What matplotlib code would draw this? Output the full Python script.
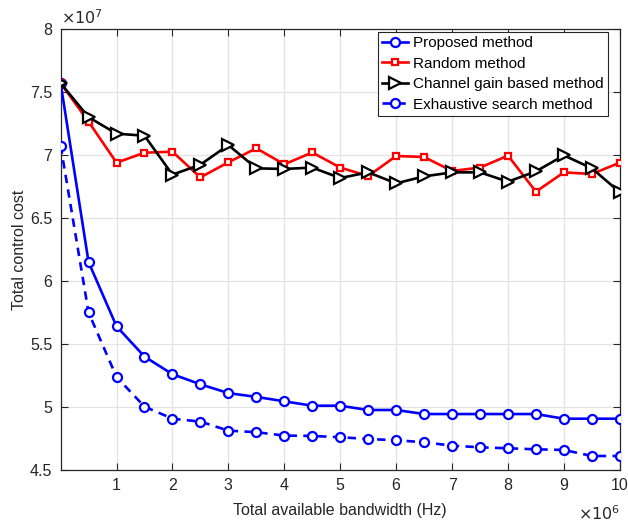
import numpy as np
import matplotlib
matplotlib.use("Agg")
import matplotlib.pyplot as plt
from matplotlib.ticker import FuncFormatter

plt.rcParams['font.family'] = ['Liberation Sans', 'DejaVu Sans']

# Total available bandwidth (Hz)
bandwidth = np.arange(0, 10.5, 0.5) * 1e6

# Total control cost for each allocation scheme (units of 1e7)
proposed = [7.57, 6.15, 5.64, 5.40, 5.26, 5.18, 5.11, 5.08, 5.045, 5.01, 5.01,
            4.976, 4.976, 4.944, 4.944, 4.944, 4.944, 4.944, 4.907, 4.907, 4.907]
random_m = [7.57, 7.264, 6.939, 7.018, 7.026, 6.822, 6.942, 7.053, 6.926, 7.02, 6.90,
            6.833, 6.992, 6.984, 6.873, 6.90, 6.995, 6.709, 6.862, 6.849, 6.939]
channel_gain = [7.57, 7.30, 7.169, 7.153, 6.844, 6.923, 7.079, 6.894, 6.889, 6.90, 6.817,
                6.862, 6.775, 6.83, 6.862, 6.862, 6.788, 6.87, 6.997, 6.894, 6.704]
exhaustive = [7.074, 5.75, 5.238, 5.003, 4.907, 4.884, 4.812, 4.80, 4.773, 4.77, 4.76,
              4.746, 4.736, 4.72, 4.693, 4.68, 4.672, 4.664, 4.659, 4.611, 4.611]

series_labels = ["Proposed method", "Random method",
                 "Channel gain based method", "Exhaustive search method"]

fig = plt.figure(figsize=(6.28, 5.25), dpi=100)
ax = fig.add_axes([0.0965, 0.1048, 0.8905, 0.84])

axc = '#262626'
lw = 1.9
ax.plot(bandwidth, np.array(proposed) * 1e7, color='#0000ff', lw=lw, marker='o',
        ms=6.5, mfc='white', mew=1.6, label=series_labels[0], zorder=3)
ax.plot(bandwidth, np.array(random_m) * 1e7, color='#ff0000', lw=lw, marker='s',
        ms=5, mfc='white', mew=1.6, label=series_labels[1], zorder=3)
ax.plot(bandwidth, np.array(channel_gain) * 1e7, color='black', lw=lw, marker='>',
        ms=8, mfc='white', mew=1.6, label=series_labels[2], zorder=3)
ax.plot(bandwidth, np.array(exhaustive) * 1e7, color='#0000ff', lw=lw, marker='o',
        ms=6.5, mfc='white', mew=1.6, dashes=(3.2, 2.4), label=series_labels[3], zorder=3)

ax.set_xlim(0, 10e6)
ax.set_ylim(4.5e7, 8e7)
ax.set_xticks(np.arange(1, 11) * 1e6)
ax.set_yticks(np.arange(4.5, 8.01, 0.5) * 1e7)
ax.xaxis.set_major_formatter(FuncFormatter(lambda v, p: '%g' % (v / 1e6)))
ax.yaxis.set_major_formatter(FuncFormatter(lambda v, p: '%g' % (v / 1e7)))

ax.grid(True, color='#e3e3e3', lw=0.9)
ax.set_axisbelow(True)
ax.tick_params(direction='in', top=True, right=True, labelsize=11.5,
               colors=axc, length=5, width=0.8, pad=6)
for s in ax.spines.values():
    s.set_color(axc)
    s.set_linewidth(0.9)

ax.set_xlabel('Total available bandwidth (Hz)', fontsize=11.5, color=axc, labelpad=7)
ax.set_ylabel('Total control cost', fontsize=11.5, color=axc, labelpad=2)

ax.text(0.0, 1.005, r'$\times10^7$', transform=ax.transAxes, fontsize=11.5,
        color=axc, ha='left', va='bottom', math_fontfamily='dejavusans')
ax.text(1.0, -0.078, r'$\times10^6$', transform=ax.transAxes, fontsize=11.5,
        color=axc, ha='right', va='top', math_fontfamily='dejavusans')

leg = ax.legend(loc='upper right', fontsize=11, frameon=True, fancybox=False,
                edgecolor=axc, framealpha=1, borderpad=0.28, labelspacing=0.42,
                handlelength=1.7, handletextpad=0.35, borderaxespad=0.2,
                bbox_to_anchor=(0.985, 1.0))
leg.get_frame().set_linewidth(0.8)

fig.savefig('out.png', dpi=100)
